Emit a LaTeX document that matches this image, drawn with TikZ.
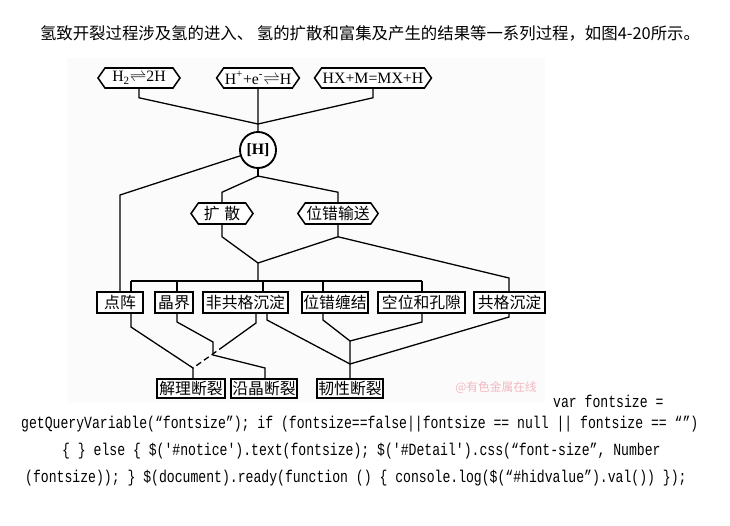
\documentclass[tikz,border=0pt]{standalone}
\usepackage{graphicx}
\usepackage{fontspec}
\setmainfont{Liberation Serif}
\newfontfamily\cjk{Noto Sans CJK SC}
\newfontfamily\codefont{Liberation Mono}
\usepackage{tikz}
\usetikzlibrary{shapes.symbols, positioning}
\definecolor{wmark}{HTML}{F2B8C0}
\colorlet{panelbg}{black!1.5}
\newcommand{\codetext}[1]{\scalebox{1}[1.3]{\codefont\fontsize{11.2}{13}\selectfont #1}}
\tikzset{
  linkline/.style={line width=1.1pt},
  stagebox/.style={draw, line width=1.6pt, fill=white, inner xsep=1pt, inner ysep=0pt,
    minimum height=0.63cm, font=\cjk\fontsize{13.5}{15}\selectfont},
  endbox/.style={stagebox, minimum height=0.57cm},
  reacthex/.style={draw, line width=1.3pt, fill=white, shape=signal, signal to=west and east,
    signal pointer angle=110, inner xsep=1pt, inner ysep=0pt, minimum height=0.6cm,
    font=\fontsize{13.5}{15}\selectfont},
  movehex/.style={reacthex, minimum height=0.63cm, font=\cjk\fontsize{13.5}{15}\selectfont},
  hcircle/.style={draw, circle, line width=1.6pt, fill=white, minimum size=1.08cm, inner sep=0pt,
    font=\bfseries\fontsize{13.5}{15}\selectfont},
}

\begin{document}
\begin{tikzpicture}[x=0.03cm, y=-0.03cm]
  \useasboundingbox (0,0) rectangle (730,525);
  \fill[panelbg] (67,58) rectangle (545,403);

  % caption
  \node[font=\cjk\fontsize{14}{16}\selectfont] (cap) at (370,33)
    {氢致开裂过程涉及氢的进入、 氢的扩散和富集及产生的结果等一系列过程，如图4-20所示。};

  % hydrogen sources
  \node[reacthex, minimum width=2.46cm] (h2) at (139,78) {H\textsubscript{2}$\rightleftharpoons$2H};
  \node[reacthex, minimum width=2.43cm] (hion) at (258,78) {H\textsuperscript{+}+e\textsuperscript{-}$\rightleftharpoons$H};
  \node[reacthex, minimum width=3.42cm] (hx) at (373,78) {HX+M=MX+H};
  \node[hcircle] (hc) at (258,150) {[H]};
  \coordinate (jin) at (258,124);
  \draw[linkline] (h2.south) -- ++(0,9) -- (jin);
  \draw[linkline] (hx.south) -- ++(0,9) -- (jin);
  \draw[linkline] (hion) -- (jin) -- (hc);

  % transport
  \node[movehex, minimum width=1.86cm] (diff) at (222,213.5) {扩\hspace{0.3em}散};
  \node[movehex, minimum width=2.28cm] (disl) at (338,213.5) {位错输送};
  \coordinate (jmid) at (258,176);
  \draw[linkline] (hc) -- (jmid);
  \draw[linkline] (diff.north) -- ++(0,-10) -- (jmid);
  \draw[linkline] (disl.north) -- ++(0,-10) -- (jmid);

  % trap sites
  \node[stagebox, minimum width=1.38cm] (lat) at (120,302.5) {点阵};
  \node[stagebox, minimum width=1.14cm] (gb) at (174,302.5) {晶界};
  \node[stagebox, minimum width=2.55cm] (incoh) at (245.5,302.5) {非共格沉淀};
  \node[stagebox, minimum width=1.92cm] (tangle) at (335,302.5) {位错缠结};
  \node[stagebox, minimum width=2.61cm] (vac) at (421.5,302.5) {空位和孔隙};
  \node[stagebox, minimum width=2.13cm] (coh) at (509.5,302.5) {共格沉淀};
  \draw[linkline] (hc) -- (120,195) -- (lat.north);
  \coordinate (jout) at (258,263);
  \coordinate (bus) at (258,281);
  \draw[linkline] (diff.south) -- ++(0,12) -- (jout);
  \draw[linkline] (disl.south) -- ++(0,12) coordinate (kdisl) -- (jout) -- (bus);
  \draw[linkline] (kdisl) -- (509,278) -- (509,0 |- coh.north);
  \draw[linkline] (131,281) -- (422,281);
  \foreach \x/\n in {131/lat, 177/gb, 263/incoh, 323/tangle, 422/vac}
    \draw[linkline] (\x,281) -- (\x,0 |- \n.north);

  % fracture modes
  \node[endbox, minimum width=2.04cm] (cleav) at (191,388.5) {解理断裂};
  \node[endbox, minimum width=1.86cm] (inter) at (264,388.5) {沿晶断裂};
  \node[endbox, minimum width=1.95cm] (duct) at (350,388.5) {韧性断裂};
  \coordinate (jcl) at (193,368);
  \coordinate (jgb) at (213,355);
  \coordinate (jtv) at (350,341);
  \coordinate (jdu) at (350,364);
  \draw[linkline] (131,0 |- lat.south) -- (131,327) -- (jcl) -- (193,0 |- cleav.north);
  \draw[linkline] (177,0 |- gb.south) -- (177,322) -- (213,342) -- (jgb) -- (265,368) -- (265,0 |- inter.north);
  \draw[linkline] (256,0 |- incoh.south) -- (256,323) -- (224,346);
  \draw[linkline, dash pattern=on 5pt off 3pt] (224,346) -- (jcl);
  \draw[linkline] (267,0 |- incoh.south) -- (267,320) -- (jdu);
  \draw[linkline] (323,0 |- tangle.south) -- (323,320) -- (jtv) -- (jdu);
  \draw[linkline] (422,0 |- vac.south) -- (422,322) -- (jtv);
  \draw[linkline] (509,0 |- coh.south) -- (509,317) -- (jdu) -- (duct.north);

  \node[font=\cjk\fontsize{10}{12}\selectfont, text=wmark] (wm) at (496,388) {@有色金属在线};

  % page script text
  \node[anchor=west, inner sep=0pt] (c1) at (553,401) {\codetext{var fontsize =}};
  \node[anchor=west, inner sep=0pt] (c2) at (21,424) {\codetext{getQueryVariable(“fontsize”); if (fontsize==false||fontsize == null || fontsize == “”)}};
  \node[anchor=west, inner sep=0pt] (c3) at (62,451) {\codetext{\{ \} else \{ \$('\#notice').text(fontsize); \$('\#Detail').css(“font-size”, Number}};
  \node[anchor=west, inner sep=0pt] (c4) at (25,478) {\codetext{(fontsize)); \} \$(document).ready(function () \{ console.log(\$(“\#hidvalue”).val()) \});}};
\end{tikzpicture}
\end{document}
